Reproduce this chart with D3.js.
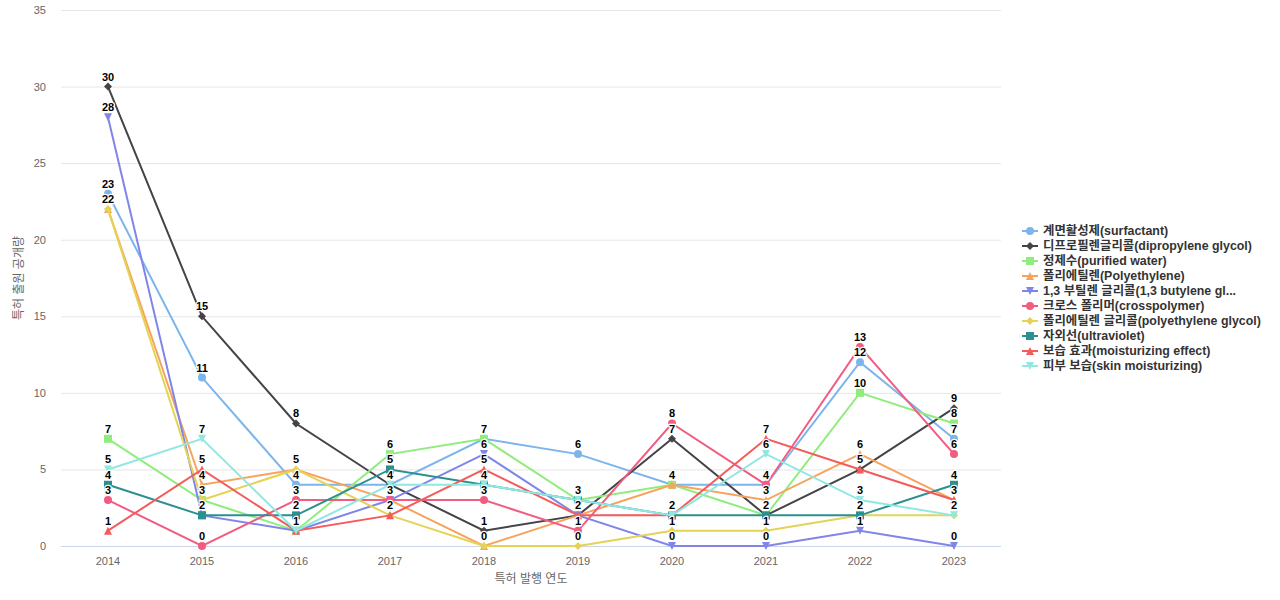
<!DOCTYPE html>
<html>
<meta charset="utf-8">
<style type="text/css">
	body { margin: 0; background: #fff; }
	text { font-family: "Liberation Sans", Arial, "Noto Sans CJK KR", sans-serif; }
	.grid line { stroke: #e6e6e6; }
	.tick-label { fill: #666; font-size: 11px; }
	.axis-title { fill: #666; font-size: 12px; }
	.dlabel { font-size: 11px; font-weight: bold; fill: #000; stroke: #fff; stroke-width: 2.5px; paint-order: stroke; stroke-linejoin: round; }
	.legend text { font-size: 12.4px; font-weight: bold; fill: #333; }
</style>
<svg width="1280" height="600"></svg>
<script src="https://d3js.org/d3.v7.min.js"></script>
<script>
	var years = [2014, 2015, 2016, 2017, 2018, 2019, 2020, 2021, 2022, 2023];

	var surfactant = [23, 11, 4, 4, 7, 6, 4, 4, 12, 7];
	var dipropylene = [30, 15, 8, 4, 1, 2, 7, 2, 5, 9];
	var purifiedWater = [7, 3, 1, 6, 7, 3, 4, 2, 10, 8];
	var polyethylene = [22, 4, 5, 3, 0, 2, 4, 3, 6, 3];
	var butylene = [28, 2, 1, 3, 6, 2, 0, 0, 1, 0];
	var crosspolymer = [3, 0, 3, 3, 3, 1, 8, 4, 13, 6];
	var peg = [22, 3, 5, 2, 0, 0, 1, 1, 2, 2];
	var ultraviolet = [4, 2, 2, 5, 4, 3, 2, 2, 2, 4];
	var moisturizing = [1, 5, 1, 2, 5, 2, 2, 7, 5, 3];
	var skin = [5, 7, 1, 4, 4, 3, 2, 6, 3, 2];

	var yTicks = [0, 5, 10, 15, 20, 25, 30, 35];

	var series = [
		{ name: '계면활성제(surfactant)', values: surfactant, color: '#7cb5ec', symbol: 'circle' },
		{ name: '디프로필렌글리콜(dipropylene glycol)', values: dipropylene, color: '#434348', symbol: 'diamond' },
		{ name: '정제수(purified water)', values: purifiedWater, color: '#90ed7d', symbol: 'square' },
		{ name: '폴리에틸렌(Polyethylene)', values: polyethylene, color: '#f7a35c', symbol: 'triangle' },
		{ name: '1,3 부틸렌 글리콜(1,3 butylene gl...', values: butylene, color: '#8085e9', symbol: 'triangle-down' },
		{ name: '크로스 폴리머(crosspolymer)', values: crosspolymer, color: '#f15c80', symbol: 'circle' },
		{ name: '폴리에틸렌 글리콜(polyethylene glycol)', values: peg, color: '#e4d354', symbol: 'diamond' },
		{ name: '자외선(ultraviolet)', values: ultraviolet, color: '#2b908f', symbol: 'square' },
		{ name: '보습 효과(moisturizing effect)', values: moisturizing, color: '#f45b5b', symbol: 'triangle' },
		{ name: '피부 보습(skin moisturizing)', values: skin, color: '#91e8e1', symbol: 'triangle-down' }
	];

	var svg = d3.select('svg'),
		plotLeft = 61, plotRight = 1001, plotTop = 10, plotBottom = 546;

	var x = d3.scaleBand().domain(years).range([plotLeft, plotRight]);
	var y = d3.scaleLinear().domain([0, 35]).range([plotBottom, plotTop]);
	var cx = (d) => x(d) + x.bandwidth() / 2;

	// grid
	var grid = svg.append('g').attr('class', 'grid');
	grid.selectAll('line').data(yTicks).enter().append('line')
		.attr('x1', plotLeft).attr('x2', plotRight)
		.attr('y1', (d) => y(d) + 0.5).attr('y2', (d) => y(d) + 0.5);

	svg.selectAll('.ylab').data(yTicks).enter().append('text')
		.attr('class', 'tick-label')
		.attr('x', 46).attr('y', (d) => y(d) + 4)
		.attr('text-anchor', 'end')
		.text((d) => d);

	svg.append('line')
		.attr('x1', plotLeft).attr('x2', plotRight)
		.attr('y1', plotBottom + 0.5).attr('y2', plotBottom + 0.5)
		.attr('stroke', '#ccd6eb');

	svg.selectAll('.xlab').data(years).enter().append('text')
		.attr('class', 'tick-label')
		.attr('x', cx).attr('y', 565)
		.attr('text-anchor', 'middle')
		.text((d) => d);

	svg.append('text').attr('class', 'axis-title')
		.attr('x', (plotLeft + plotRight) / 2).attr('y', 583)
		.attr('text-anchor', 'middle')
		.text('특허 발행 연도');

	svg.append('text').attr('class', 'axis-title')
		.attr('transform', 'translate(23,' + (plotTop + plotBottom) / 2 + ') rotate(-90)')
		.attr('text-anchor', 'middle')
		.text('특허 출원 공개량');

	// marker shapes, radius 4 like the original
	function symbolPath(type) {
		var r = 4;
		switch (type) {
			case 'circle':
				return 'M' + (-r) + ',0A' + r + ',' + r + ' 0 1,0 ' + r + ',0A' + r + ',' + r + ' 0 1,0 ' + (-r) + ',0Z';
			case 'diamond':
				return 'M0,' + (-r) + 'L' + r + ',0L0,' + r + 'L' + (-r) + ',0Z';
			case 'square':
				return 'M' + (-r) + ',' + (-r) + 'H' + r + 'V' + r + 'H' + (-r) + 'Z';
			case 'triangle':
				return 'M0,' + (-r) + 'L' + r + ',' + r + 'L' + (-r) + ',' + r + 'Z';
			case 'triangle-down':
				return 'M' + (-r) + ',' + (-r) + 'H' + r + 'L0,' + r + 'Z';
		}
	}

	var line = d3.line()
		.x((d, i) => cx(years[i]))
		.y((d) => y(d));

	series.forEach((s) => {
		var g = svg.append('g');
		g.append('path')
			.attr('d', line(s.values))
			.attr('fill', 'none')
			.attr('stroke', s.color)
			.attr('stroke-width', 2);
		g.selectAll('path.pt').data(s.values).enter().append('path')
			.attr('class', 'pt')
			.attr('d', symbolPath(s.symbol))
			.attr('transform', (d, i) => 'translate(' + cx(years[i]) + ',' + y(d) + ')')
			.attr('fill', s.color);
	});

	// data labels, one per year/value like the original
	var seen = {};
	series.forEach((s) => {
		s.values.forEach((v, i) => {
			var key = years[i] + '_' + v;
			if (seen[key]) return;
			seen[key] = true;
			svg.append('text')
				.attr('class', 'dlabel')
				.attr('x', cx(years[i]))
				.attr('y', y(v) - 6)
				.attr('text-anchor', 'middle')
				.text(v);
		});
	});

	// legend
	var legend = svg.append('g').attr('class', 'legend');
	series.forEach((s, i) => {
		var ly = 231 + i * 15;
		legend.append('line')
			.attr('x1', 1022).attr('x2', 1038)
			.attr('y1', ly).attr('y2', ly)
			.attr('stroke', s.color).attr('stroke-width', 2);
		legend.append('path')
			.attr('d', symbolPath(s.symbol))
			.attr('transform', 'translate(1030,' + ly + ')')
			.attr('fill', s.color);
		legend.append('text')
			.attr('x', 1043).attr('y', ly + 4)
			.text(s.name);
	});
</script>
</html>
